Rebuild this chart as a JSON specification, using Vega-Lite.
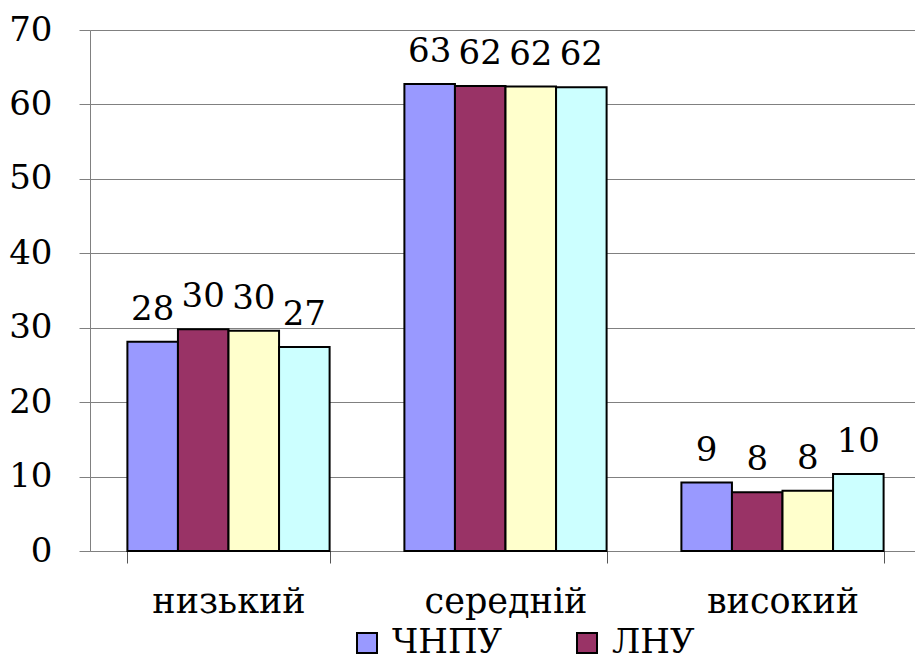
{
  "$schema": "https://vega.github.io/schema/vega-lite/v6.json",
  "autosize": {"type": "none"},
  "padding": {"left": 90, "top": 30, "right": 0, "bottom": 113},
  "width": 825,
  "height": 521,
  "background": "white",
  "config": {
    "font": "DejaVu Serif"
  },
  "data": {
    "values": [
      {"level": "низький", "uni": "ЧНПУ", "value": 28.1},
      {"level": "низький", "uni": "ЛНУ", "value": 29.8},
      {"level": "низький", "uni": "Серія 3", "value": 29.6},
      {"level": "низький", "uni": "Серія 4", "value": 27.4},
      {"level": "середній", "uni": "ЧНПУ", "value": 62.75},
      {"level": "середній", "uni": "ЛНУ", "value": 62.48},
      {"level": "середній", "uni": "Серія 3", "value": 62.4},
      {"level": "середній", "uni": "Серія 4", "value": 62.3},
      {"level": "високий", "uni": "ЧНПУ", "value": 9.2},
      {"level": "високий", "uni": "ЛНУ", "value": 7.9},
      {"level": "високий", "uni": "Серія 3", "value": 8.1},
      {"level": "високий", "uni": "Серія 4", "value": 10.35}
    ]
  },
  "encoding": {
    "x": {
      "field": "level",
      "type": "nominal",
      "sort": ["низький", "середній", "високий"],
      "scale": {"range": [0, 831], "paddingInner": 0.27, "paddingOuter": 0.135},
      "axis": {
        "title": null,
        "labelAngle": 0,
        "labelFont": "DejaVu Serif",
        "labelFontSize": 35,
        "labelColor": "black",
        "labelPadding": 21,
        "tickBand": "extent",
        "tickSize": 12,
        "tickColor": "#555555",
        "domainColor": "#808080",
        "grid": false
      }
    },
    "xOffset": {
      "field": "uni",
      "type": "nominal",
      "sort": ["ЧНПУ", "ЛНУ", "Серія 3", "Серія 4"],
      "scale": {"paddingInner": 0, "paddingOuter": 0}
    },
    "y": {
      "field": "value",
      "type": "quantitative",
      "scale": {"domain": [0, 70], "nice": false},
      "axis": {
        "title": null,
        "values": [0, 10, 20, 30, 40, 50, 60, 70],
        "labelFont": "DejaVu Serif",
        "labelFontSize": 34,
        "labelColor": "black",
        "labelPadding": 27,
        "tickSize": 11,
        "tickColor": "#808080",
        "domainColor": "#808080",
        "gridColor": "#808080",
        "gridWidth": 1
      }
    }
  },
  "layer": [
    {
      "mark": {"type": "bar", "stroke": "black", "strokeWidth": 2},
      "encoding": {
        "color": {
          "field": "uni",
          "type": "nominal",
          "scale": {
            "domain": ["ЧНПУ", "ЛНУ", "Серія 3", "Серія 4"],
            "range": ["#9999FF", "#993366", "#FFFFCC", "#CCFFFF"]
          },
          "legend": {
            "title": null,
            "orient": "none",
            "legendX": 260,
            "legendY": 596,
            "direction": "horizontal",
            "values": ["ЧНПУ", "ЛНУ"],
            "symbolType": "square",
            "symbolSize": 400,
            "symbolStrokeColor": "black",
            "symbolStrokeWidth": 2,
            "symbolOpacity": 1,
            "labelFont": "DejaVu Serif",
            "labelFontSize": 34,
            "labelColor": "black",
            "labelOffset": 8,
            "columnPadding": 67,
            "labelLimit": 300
          }
        }
      }
    },
    {
      "mark": {
        "type": "text",
        "font": "DejaVu Serif",
        "fontSize": 34,
        "color": "black",
        "baseline": "alphabetic",
        "align": "center",
        "dy": -22
      },
      "encoding": {
        "text": {"field": "value", "type": "quantitative", "format": ".0f"}
      }
    }
  ]
}
